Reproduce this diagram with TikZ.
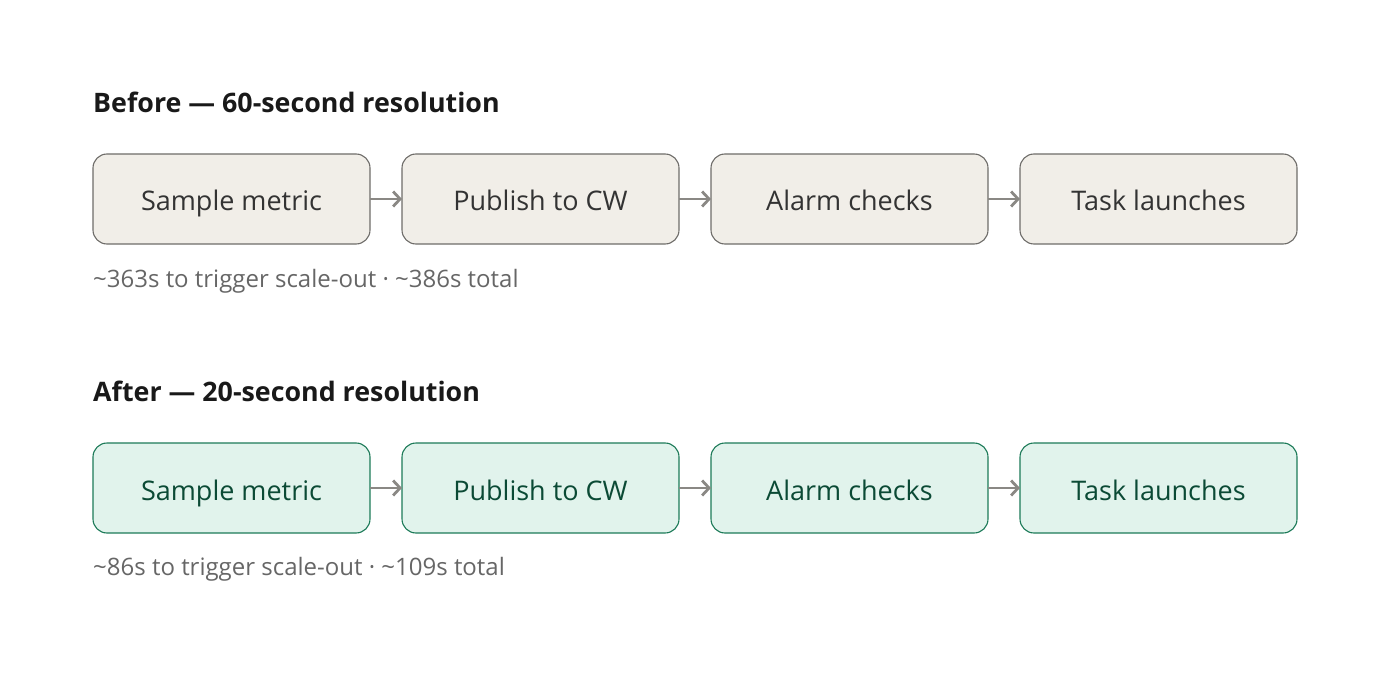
\documentclass[tikz,border=0pt]{standalone}
\usepackage{fontspec}
\setmainfont{Open Sans}
\usetikzlibrary{positioning, arrows.meta}
\definecolor{oldfill}{HTML}{F1EEE8}
\definecolor{olddraw}{HTML}{6E6C69}
\definecolor{oldtext}{HTML}{333333}
\definecolor{newfill}{HTML}{E1F3EC}
\definecolor{newdraw}{HTML}{1C7A58}
\definecolor{newtext}{HTML}{0B4A35}
\definecolor{flowgray}{HTML}{8A8884}
\definecolor{notegray}{HTML}{666666}
\tikzset{>={Straight Barb[length=7pt, width=15pt]}}
\tikzset{
  stagebox/.style = {draw, rounded corners = 14pt, line width = 1.1pt, outer sep = 0pt,
    minimum width = 277pt, minimum height = 90pt, text height = 28pt, text depth = 4pt,
    font = \fontsize{27}{32}\selectfont},
  oldbox/.style = {stagebox, fill = oldfill, draw = olddraw, text = oldtext},
  newbox/.style = {stagebox, fill = newfill, draw = newdraw, text = newtext},
  heading/.style = {anchor = base west, inner sep = 0pt, font = \fontsize{26.8}{31}\selectfont\bfseries, text = black!90},
  note/.style = {anchor = base west, inner sep = 0pt, font = \fontsize{24}{28}\selectfont, text = notegray},
  flow/.style = {->, draw = flowgray, line width = 2.8pt}
}

\begin{document}
\begin{tikzpicture}[x = 1pt, y = 1pt, node distance = 32pt]
\useasboundingbox (0,0) rectangle (1400,-679);

% before
\node (before) [heading] at (93,-113) {Before — 60-second resolution};
\node (bsample) [oldbox, anchor = north west] at (93,-154) {Sample metric};
\node (bpublish) [oldbox, right = of bsample] {Publish to CW};
\node (balarm) [oldbox, right = of bpublish] {Alarm checks};
\node (blaunch) [oldbox, right = of balarm] {Task launches};
\draw[flow] (bsample) -- (bpublish);
\draw[flow] (bpublish) -- (balarm);
\draw[flow] (balarm) -- (blaunch);
\node (bnote) [note] at (93,-287) {\textasciitilde363s to trigger scale-out · \textasciitilde386s total};

% after
\node (after) [heading] at (93,-401) {After — 20-second resolution};
\node (asample) [newbox, anchor = north west] at (93,-443) {Sample metric};
\node (apublish) [newbox, right = of asample] {Publish to CW};
\node (aalarm) [newbox, right = of apublish] {Alarm checks};
\node (alaunch) [newbox, right = of aalarm] {Task launches};
\draw[flow] (asample) -- (apublish);
\draw[flow] (apublish) -- (aalarm);
\draw[flow] (aalarm) -- (alaunch);
\node (anote) [note] at (93,-575) {\textasciitilde86s to trigger scale-out · \textasciitilde109s total};

\end{tikzpicture}
\end{document}
